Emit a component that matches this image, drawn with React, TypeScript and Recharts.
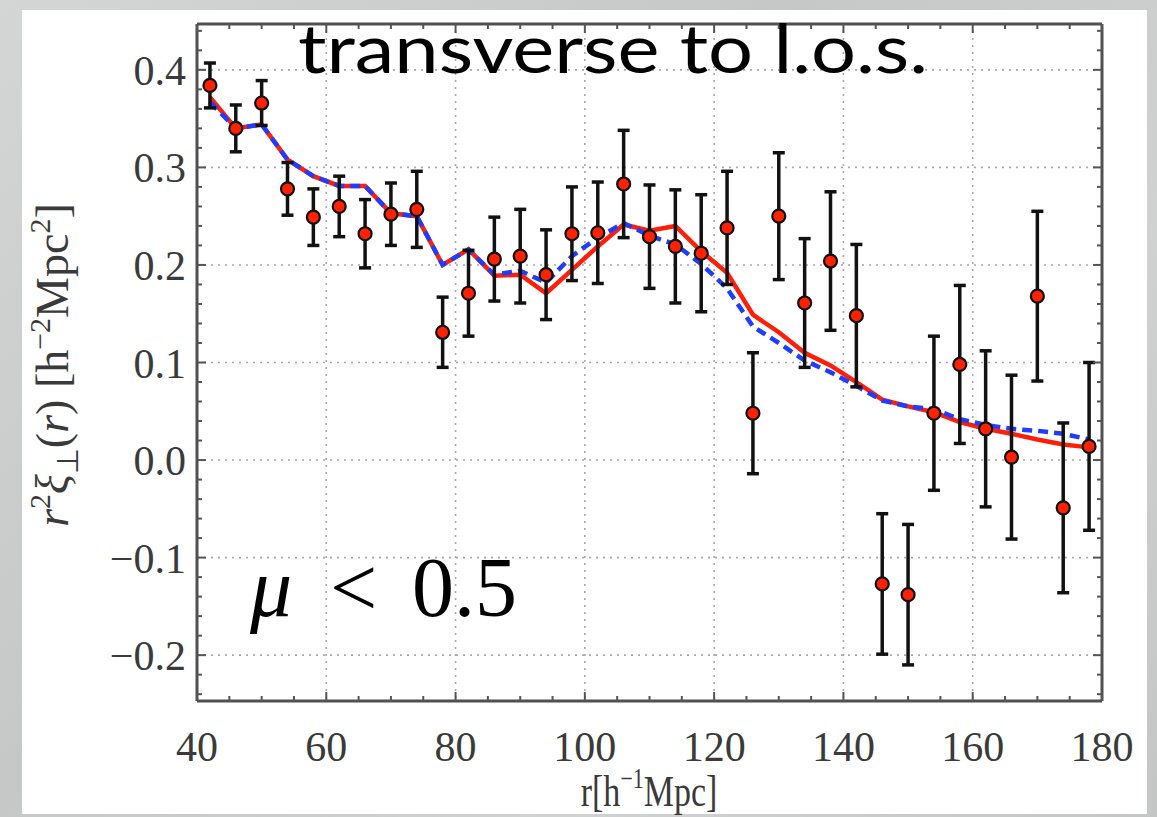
import React from 'react';
import { ComposedChart, Line, Scatter, ErrorBar, XAxis, YAxis, CartesianGrid } from 'recharts';

// separation r [h^-1 Mpc]
const rValues = [42, 46, 50, 54, 58, 62, 66, 70, 74, 78, 82, 86, 90, 94, 98, 102, 106, 110, 114, 118, 122, 126, 130, 134, 138, 142, 146, 150, 154, 158, 162, 166, 170, 174, 178];
// measured r^2 xi_perp
const xiValues = [0.384, 0.340, 0.366, 0.278, 0.249, 0.260, 0.232, 0.252, 0.257, 0.131, 0.171, 0.206, 0.209, 0.190, 0.232, 0.233, 0.283, 0.229, 0.219, 0.212, 0.238, 0.048, 0.250, 0.161, 0.204, 0.148, -0.127, -0.138, 0.048, 0.098, 0.032, 0.003, 0.168, -0.049, 0.014];
const xiErrors = [0.023, 0.024, 0.023, 0.027, 0.029, 0.031, 0.035, 0.032, 0.039, 0.036, 0.044, 0.043, 0.048, 0.046, 0.048, 0.052, 0.055, 0.053, 0.058, 0.060, 0.058, 0.062, 0.065, 0.066, 0.071, 0.073, 0.072, 0.072, 0.079, 0.081, 0.080, 0.084, 0.087, 0.087, 0.086];
// model curves
const redModel = [0.372, 0.340, 0.344, 0.308, 0.291, 0.281, 0.281, 0.253, 0.250, 0.200, 0.216, 0.189, 0.190, 0.171, 0.195, 0.219, 0.2415, 0.235, 0.240, 0.214, 0.192, 0.149, 0.131, 0.110, 0.097, 0.080, 0.062, 0.055, 0.049, 0.039, 0.032, 0.027, 0.021, 0.016, 0.013];
const blueModel = [0.367, 0.340, 0.344, 0.308, 0.291, 0.281, 0.281, 0.253, 0.250, 0.200, 0.216, 0.190, 0.194, 0.182, 0.209, 0.228, 0.243, 0.230, 0.221, 0.201, 0.176, 0.137, 0.120, 0.102, 0.090, 0.076, 0.061, 0.055, 0.052, 0.042, 0.036, 0.032, 0.030, 0.027, 0.021];

const xMajorTicks = [40, 60, 80, 100, 120, 140, 160, 180];
const xMinorTicks = [45, 50, 55, 65, 70, 75, 85, 90, 95, 105, 110, 115, 125, 130, 135, 145, 150, 155, 165, 170, 175];
const xAllTicks = [40, 45, 50, 55, 60, 65, 70, 75, 80, 85, 90, 95, 100, 105, 110, 115, 120, 125, 130, 135, 140, 145, 150, 155, 160, 165, 170, 175, 180];
const yMajorTicks = [-0.2, -0.1, 0.0, 0.1, 0.2, 0.3, 0.4];
const yMinorTicks = [-0.24, -0.22, -0.18, -0.16, -0.14, -0.12, -0.08, -0.06, -0.04, -0.02, 0.02, 0.04, 0.06, 0.08, 0.12, 0.14, 0.16, 0.18, 0.22, 0.24, 0.26, 0.28, 0.32, 0.34, 0.36, 0.38, 0.42, 0.44];
const yAllTicks = [-0.24, -0.22, -0.2, -0.18, -0.16, -0.14, -0.12, -0.1, -0.08, -0.06, -0.04, -0.02, 0, 0.02, 0.04, 0.06, 0.08, 0.1, 0.12, 0.14, 0.16, 0.18, 0.2, 0.22, 0.24, 0.26, 0.28, 0.3, 0.32, 0.34, 0.36, 0.38, 0.4, 0.42, 0.44];

const data = rValues.map((r, i) => ({ r, xi: xiValues[i], err: xiErrors[i], red: redModel[i], blue: blueModel[i] }));

const TICK_COLOR = '#555';
const LABEL_FONT = '"Liberation Serif", "Times New Roman", serif';
const MAJOR = 9;
const MINOR = 5;

const fmtY = (v: number) => {
  const s = Math.abs(v).toFixed(1);
  return v < -1e-9 ? '\u2212' + s : s;
};

const BottomMajor = (p: any) => (
  <g>
    <line x1={p.x} y1={p.y} x2={p.x} y2={p.y - MAJOR} stroke={TICK_COLOR} strokeWidth={2} />
    <text x={p.x} y={p.y + 60} textAnchor="middle" fontFamily={LABEL_FONT} fontSize={42} fill="#3a3a3a">{p.payload.value}</text>
  </g>
);
const BottomMinor = (p: any) => (
  <line x1={p.x} y1={p.y - 1} x2={p.x} y2={p.y - 1 - MINOR} stroke={TICK_COLOR} strokeWidth={2} />
);
const TopTick = (p: any) => {
  const major = xMajorTicks.includes(p.payload.value);
  return <line x1={p.x} y1={p.y} x2={p.x} y2={p.y + (major ? MAJOR : MINOR)} stroke={TICK_COLOR} strokeWidth={2} />;
};
const LeftMajor = (p: any) => (
  <g>
    <line x1={p.x} y1={p.y} x2={p.x + MAJOR} y2={p.y} stroke={TICK_COLOR} strokeWidth={2} />
    <text x={p.x - 11} y={p.y + 15} textAnchor="end" fontFamily={LABEL_FONT} fontSize={42} fill="#3a3a3a">{fmtY(p.payload.value)}</text>
  </g>
);
const LeftMinor = (p: any) => (
  <line x1={p.x + 1} y1={p.y} x2={p.x + 1 + MINOR} y2={p.y} stroke={TICK_COLOR} strokeWidth={2} />
);
const RightTick = (p: any) => {
  const major = yMajorTicks.some((t) => Math.abs(t - p.payload.value) < 1e-6);
  return <line x1={p.x} y1={p.y} x2={p.x - (major ? MAJOR : MINOR)} y2={p.y} stroke={TICK_COLOR} strokeWidth={2} />;
};

const Dot = (p: any) => <circle cx={p.cx} cy={p.cy} r={6.5} fill="#ff2200" stroke="#111" strokeWidth={2.2} />;

const X_DOMAIN: [number, number] = [40, 180];
const Y_DOMAIN: [number, number] = [-0.247, 0.447];
const frame = { stroke: '#505050', strokeWidth: 3 };

export default function App() {
  return (
    <div style={{ position: 'absolute', left: 0, top: 0, width: 1157, height: 817, background: 'linear-gradient(135deg, #d4d6d6 0%, #c6c8c8 40%, #d0d2d2 70%, #c4c6c6 100%)', overflow: 'hidden' }}>
      <div style={{ position: 'absolute', left: 22, top: 10, width: 1125, height: 804, background: '#ffffff' }} />
      <div style={{ position: 'absolute', left: 0, top: 0 }}>
        <ComposedChart width={1157} height={817} data={data} margin={{ top: 23, right: 54, bottom: 114, left: 195 }}>
          <CartesianGrid xAxisId="main" yAxisId="main" stroke="#a8a8a8" strokeWidth={1.6} strokeDasharray="2 5" />
          <XAxis xAxisId="main" dataKey="r" type="number" domain={X_DOMAIN} ticks={xMajorTicks} interval={0} height={1} tickSize={0} tickMargin={0} tickLine={false} axisLine={frame} tick={BottomMajor} allowDataOverflow />
          <XAxis xAxisId="minor" dataKey="r" type="number" domain={X_DOMAIN} ticks={xMinorTicks} interval={0} height={1} tickSize={0} tickMargin={0} tickLine={false} axisLine={false} tick={BottomMinor} allowDataOverflow />
          <XAxis xAxisId="top" orientation="top" dataKey="r" type="number" domain={X_DOMAIN} ticks={xAllTicks} interval={0} height={1} tickSize={0} tickMargin={0} tickLine={false} axisLine={frame} tick={TopTick} allowDataOverflow />
          <YAxis yAxisId="main" type="number" domain={Y_DOMAIN} ticks={yMajorTicks} interval={0} width={1} tickSize={0} tickMargin={0} tickLine={false} axisLine={frame} tick={LeftMajor} allowDataOverflow />
          <YAxis yAxisId="minor" type="number" domain={Y_DOMAIN} ticks={yMinorTicks} interval={0} width={1} tickSize={0} tickMargin={0} tickLine={false} axisLine={false} tick={LeftMinor} allowDataOverflow />
          <YAxis yAxisId="right" orientation="right" type="number" domain={Y_DOMAIN} ticks={yAllTicks} interval={0} width={1} tickSize={0} tickMargin={0} tickLine={false} axisLine={frame} tick={RightTick} allowDataOverflow />
          <Line xAxisId="main" yAxisId="main" type="linear" dataKey="red" stroke="#ff1e0a" strokeWidth={4.5} dot={false} activeDot={false} isAnimationActive={false} />
          <Line xAxisId="main" yAxisId="main" type="linear" dataKey="blue" stroke="#1f3cff" strokeWidth={4.5} strokeDasharray="10 6" dot={false} activeDot={false} isAnimationActive={false} />
          <Scatter xAxisId="main" yAxisId="main" dataKey="xi" shape={Dot} isAnimationActive={false}>
            <ErrorBar dataKey="err" direction="y" width={6} stroke="#111" strokeWidth={3.5} />
          </Scatter>
        </ComposedChart>
      </div>
      <svg width={1157} height={817} style={{ position: 'absolute', left: 0, top: 0, pointerEvents: 'none' }}>
        <text x={613} y={73} textAnchor="middle" fontFamily="Lato, 'Open Sans', sans-serif" fontSize={68} fill="#000" textLength={630} lengthAdjust="spacingAndGlyphs">transverse to l.o.s.</text>
        <text y={616} fontFamily={LABEL_FONT} fontSize={84} fill="#000">
          <tspan x={250} fontStyle="italic">{'\u03bc'}</tspan>
          <tspan x={330}>{'<'}</tspan>
          <tspan x={412}>0.5</tspan>
        </text>
        <text x={0} y={0} transform="translate(68,365) rotate(-90)" textAnchor="middle" fontFamily={LABEL_FONT} fontSize={46} fill="#3a3a3a">
          <tspan fontStyle="italic">r</tspan>
          <tspan fontSize={30} dy={-18}>2</tspan>
          <tspan fontStyle="italic" dy={18}>{'\u03be'}</tspan>
          <tspan fontSize={30} dy={10}>{'\u22a5'}</tspan>
          <tspan dy={-10}>(</tspan>
          <tspan fontStyle="italic">r</tspan>
          <tspan>) [h</tspan>
          <tspan fontSize={30} dy={-18}>{'\u22122'}</tspan>
          <tspan dy={18}>Mpc</tspan>
          <tspan fontSize={30} dy={-18}>2</tspan>
          <tspan dy={18}>]</tspan>
        </text>
        <text x={0} y={0} transform="translate(649,806) scale(0.85,1.1)" textAnchor="middle" fontFamily={LABEL_FONT} fontSize={40} fill="#3a3a3a">
          <tspan>r[h</tspan>
          <tspan fontSize={26} dy={-16}>{'\u22121'}</tspan>
          <tspan dy={16}>Mpc]</tspan>
        </text>
      </svg>
    </div>
  );
}
